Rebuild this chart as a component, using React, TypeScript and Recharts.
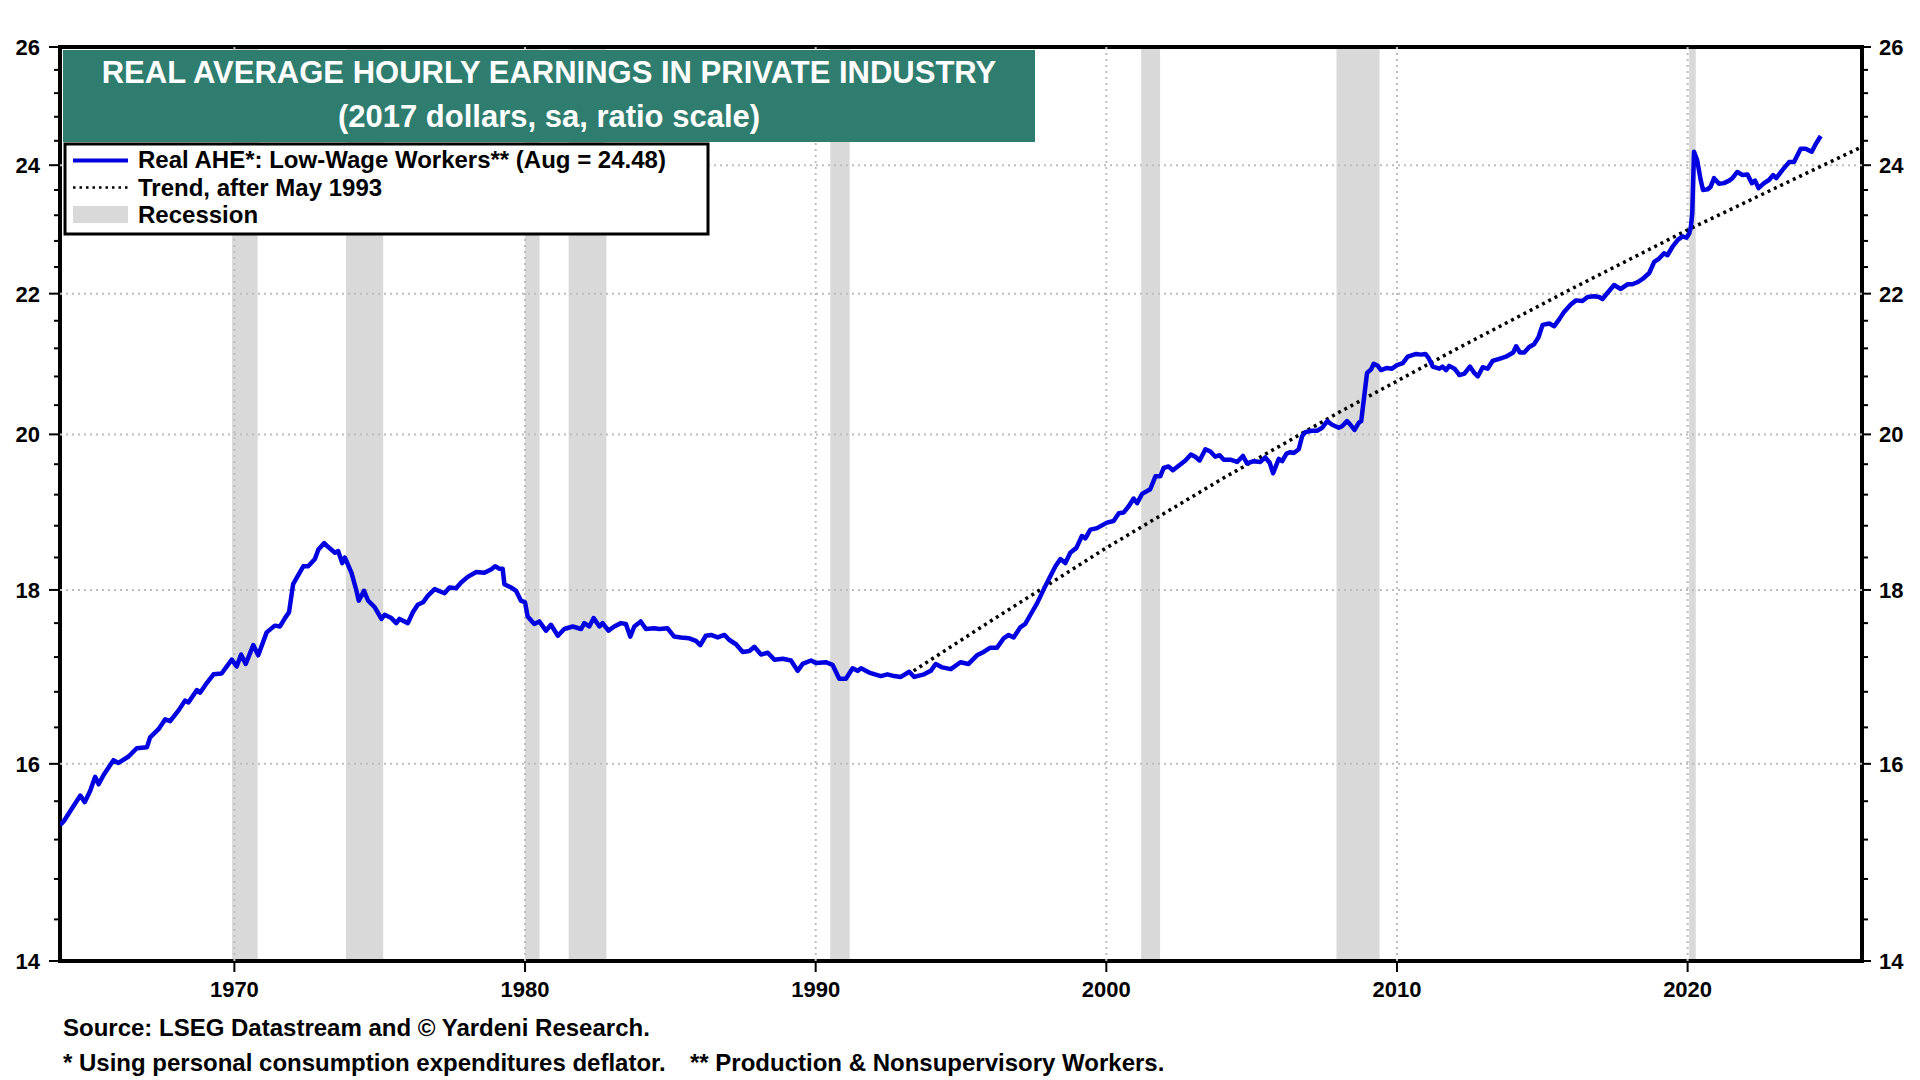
import React from 'react';
import { ComposedChart, Line, XAxis, YAxis, ReferenceArea, ReferenceLine } from 'recharts';

const FONT = '"Liberation Sans", Arial, Helvetica, sans-serif';

// Real AHE, low-wage workers (2017 dollars), [decimal year, value]
const ahe1964to1979: [number, number][] = [
  [1964.0, 15.35], [1964.13, 15.39], [1964.36, 15.5], [1964.7, 15.66], [1964.85, 15.59],
  [1965.04, 15.71], [1965.21, 15.86], [1965.33, 15.78], [1965.5, 15.88], [1965.84, 16.04],
  [1966.01, 16.01], [1966.36, 16.08], [1966.64, 16.17], [1966.99, 16.18], [1967.1, 16.29],
  [1967.39, 16.38], [1967.62, 16.49], [1967.79, 16.47], [1968.08, 16.59], [1968.3, 16.7],
  [1968.42, 16.68], [1968.71, 16.82], [1968.82, 16.79], [1969.05, 16.9], [1969.28, 17.0],
  [1969.56, 17.01], [1969.91, 17.17], [1970.08, 17.09], [1970.23, 17.23], [1970.39, 17.12],
  [1970.65, 17.34], [1970.82, 17.22], [1971.11, 17.49], [1971.39, 17.57], [1971.57, 17.56],
  [1971.74, 17.66], [1971.88, 17.73], [1972.02, 18.07], [1972.37, 18.29], [1972.54, 18.29],
  [1972.77, 18.38], [1972.89, 18.5], [1973.09, 18.58], [1973.23, 18.53], [1973.46, 18.46],
  [1973.57, 18.48], [1973.71, 18.33], [1973.8, 18.4], [1974.03, 18.21], [1974.2, 17.99],
  [1974.28, 17.87], [1974.46, 17.99], [1974.6, 17.87], [1974.83, 17.79], [1975.06, 17.65],
  [1975.17, 17.7], [1975.4, 17.66], [1975.57, 17.6], [1975.68, 17.65], [1975.97, 17.6],
  [1976.14, 17.73], [1976.31, 17.82], [1976.49, 17.85], [1976.66, 17.93], [1976.89, 18.01],
  [1977.23, 17.96], [1977.4, 18.03], [1977.63, 18.02], [1977.8, 18.09], [1978.03, 18.16],
  [1978.32, 18.22], [1978.6, 18.21], [1978.83, 18.25], [1978.97, 18.29], [1979.12, 18.26],
  [1979.23, 18.26], [1979.29, 18.07], [1979.52, 18.03], [1979.69, 17.99], [1979.86, 17.87],
];

const ahe1980to1994: [number, number][] = [
  [1980.0, 17.85], [1980.09, 17.68], [1980.32, 17.59], [1980.49, 17.62], [1980.72, 17.51],
  [1980.89, 17.58], [1981.13, 17.45], [1981.35, 17.53], [1981.64, 17.56], [1981.93, 17.53],
  [1982.04, 17.6], [1982.21, 17.56], [1982.36, 17.66], [1982.56, 17.56], [1982.67, 17.6],
  [1982.87, 17.51], [1983.07, 17.56], [1983.3, 17.6], [1983.47, 17.59], [1983.62, 17.44],
  [1983.76, 17.56], [1983.98, 17.62], [1984.16, 17.53], [1984.44, 17.54], [1984.62, 17.53],
  [1984.9, 17.54], [1985.13, 17.44], [1985.36, 17.43], [1985.65, 17.42], [1985.88, 17.39],
  [1986.03, 17.34], [1986.22, 17.45], [1986.4, 17.46], [1986.63, 17.43], [1986.86, 17.46],
  [1987.03, 17.4], [1987.26, 17.35], [1987.49, 17.26], [1987.72, 17.27], [1987.89, 17.32],
  [1988.12, 17.23], [1988.35, 17.25], [1988.58, 17.17], [1988.87, 17.18], [1989.15, 17.16],
  [1989.38, 17.04], [1989.55, 17.12], [1989.84, 17.16], [1990.01, 17.13], [1990.35, 17.14],
  [1990.58, 17.11], [1990.81, 16.95], [1991.04, 16.95], [1991.27, 17.07], [1991.44, 17.04],
  [1991.56, 17.07], [1991.84, 17.02], [1992.24, 16.98], [1992.47, 17.0], [1992.7, 16.98],
  [1992.93, 16.97], [1993.22, 17.03], [1993.39, 16.97], [1993.73, 17.0], [1993.96, 17.04],
  [1994.13, 17.12], [1994.36, 17.08], [1994.65, 17.06], [1994.98, 17.14],
];

const ahe1995to2009: [number, number][] = [
  [1995.26, 17.12], [1995.55, 17.22], [1995.78, 17.26], [1996.01, 17.31], [1996.24, 17.31],
  [1996.47, 17.42], [1996.64, 17.46], [1996.81, 17.43], [1997.04, 17.55], [1997.21, 17.59],
  [1997.39, 17.7], [1997.62, 17.84], [1997.85, 18.01], [1998.02, 18.13], [1998.25, 18.29],
  [1998.42, 18.38], [1998.59, 18.33], [1998.76, 18.46], [1998.97, 18.52], [1999.16, 18.67],
  [1999.28, 18.64], [1999.45, 18.75], [1999.68, 18.77], [2000.02, 18.84], [2000.25, 18.86],
  [2000.43, 18.96], [2000.6, 18.97], [2000.77, 19.05], [2000.94, 19.15], [2001.06, 19.09],
  [2001.23, 19.21], [2001.51, 19.27], [2001.69, 19.44], [2001.86, 19.44], [2001.97, 19.55],
  [2002.14, 19.57], [2002.29, 19.52], [2002.49, 19.58], [2002.72, 19.65], [2002.91, 19.73],
  [2003.06, 19.7], [2003.21, 19.65], [2003.41, 19.8], [2003.58, 19.77], [2003.75, 19.7],
  [2003.9, 19.72], [2004.04, 19.66], [2004.27, 19.66], [2004.5, 19.63], [2004.7, 19.71],
  [2004.84, 19.61], [2005.07, 19.64], [2005.3, 19.63], [2005.47, 19.69], [2005.62, 19.62],
  [2005.74, 19.48], [2005.93, 19.67], [2006.05, 19.64], [2006.2, 19.74], [2006.33, 19.76],
  [2006.45, 19.75], [2006.62, 19.8], [2006.74, 19.98], [2006.85, 20.03], [2007.08, 20.05],
  [2007.25, 20.05], [2007.43, 20.09], [2007.6, 20.18], [2007.77, 20.13], [2008.0, 20.09],
  [2008.11, 20.11], [2008.28, 20.18], [2008.4, 20.13], [2008.54, 20.06], [2008.69, 20.16],
  [2008.77, 20.18], [2008.86, 20.48], [2008.97, 20.85], [2009.11, 20.9], [2009.2, 20.98],
  [2009.34, 20.95], [2009.45, 20.89], [2009.66, 20.92], [2009.83, 20.91],
];

const ahe2010to2024: [number, number][] = [
  [2010.0, 20.96], [2010.2, 20.99], [2010.37, 21.08], [2010.66, 21.12], [2010.83, 21.11],
  [2010.98, 21.12], [2011.09, 21.06], [2011.23, 20.94], [2011.46, 20.91], [2011.57, 20.94],
  [2011.69, 20.89], [2011.8, 20.95], [2011.98, 20.91], [2012.15, 20.82], [2012.32, 20.84],
  [2012.51, 20.94], [2012.66, 20.85], [2012.78, 20.8], [2012.95, 20.93], [2013.12, 20.91],
  [2013.29, 21.02], [2013.52, 21.05], [2013.75, 21.08], [2014.0, 21.14], [2014.1, 21.23],
  [2014.23, 21.14], [2014.38, 21.14], [2014.55, 21.22], [2014.72, 21.26], [2014.87, 21.36],
  [2015.01, 21.54], [2015.24, 21.56], [2015.41, 21.52], [2015.58, 21.62], [2015.75, 21.73],
  [2015.98, 21.84], [2016.16, 21.9], [2016.38, 21.89], [2016.56, 21.95], [2016.79, 21.96],
  [2016.96, 21.95], [2017.07, 21.92], [2017.24, 22.01], [2017.47, 22.13], [2017.7, 22.07],
  [2017.93, 22.14], [2018.1, 22.14], [2018.27, 22.17], [2018.45, 22.22], [2018.68, 22.31],
  [2018.85, 22.48], [2019.02, 22.53], [2019.19, 22.61], [2019.31, 22.58], [2019.48, 22.71],
  [2019.65, 22.81], [2019.82, 22.87], [2019.96, 22.85], [2020.05, 22.91], [2020.11, 23.01],
  [2020.16, 23.23], [2020.22, 24.22], [2020.33, 24.08], [2020.45, 23.76], [2020.53, 23.6],
  [2020.68, 23.61], [2020.79, 23.65], [2020.91, 23.79], [2021.08, 23.7], [2021.25, 23.71],
  [2021.43, 23.75], [2021.54, 23.79], [2021.71, 23.89], [2021.89, 23.84], [2022.06, 23.85],
  [2022.21, 23.71], [2022.32, 23.75], [2022.44, 23.63], [2022.63, 23.71], [2022.8, 23.76],
  [2022.94, 23.84], [2023.05, 23.79], [2023.26, 23.92], [2023.49, 24.05], [2023.66, 24.05],
  [2023.89, 24.27], [2024.06, 24.27], [2024.27, 24.22], [2024.4, 24.34], [2024.58, 24.48],
];

// Trend after May 1993
const trendAfterMay1993: [number, number][] = [
  [1993.37, 17.04], [1996.0, 17.62], [2000.0, 18.52], [2004.0, 19.41], [2008.0, 20.3],
  [2012.0, 21.18], [2016.0, 22.07], [2020.0, 22.97], [2024.0, 23.85], [2026.0, 24.3],
];

// Recession periods [start, end] in decimal years
const recessions: [number, number][] = [
  [1969.92, 1970.8], [1973.84, 1975.12], [1980.0, 1980.5], [1981.5, 1982.8],
  [1990.5, 1991.17], [2001.2, 2001.85], [2007.92, 2009.4], [2020.05, 2020.28],
];

const yTicks = [
  14, 14.4, 14.8, 15.2, 15.6, 16, 16.4, 16.8, 17.2, 17.6, 18, 18.4, 18.8, 19.2, 19.6,
  20, 20.4, 20.8, 21.2, 21.6, 22, 22.4, 22.8, 23.2, 23.6, 24, 24.4, 24.8, 25.2, 25.6, 26,
];
const yMajorLabels = [14, 16, 18, 20, 22, 24, 26];
const yGridValues = [16, 18, 20, 22, 24];
const xTicks = [1970, 1980, 1990, 2000, 2010, 2020];
const xDomain: [number, number] = [1964, 2026];
const yDomain: [number, number] = [14, 26];

const toRows = (pts: [number, number][]) => pts.map(([x, v]) => ({ x, v }));
const aheData = toRows([...ahe1964to1979, ...ahe1980to1994, ...ahe1995to2009, ...ahe2010to2024]);
const trendData = toRows(trendAfterMay1993);

const BLUE = '#0000E0';
const GRID = '#bdbdbd';
const RECESSION = '#d9d9d9';
const TITLE_BG = '#2F7D6F';

const LeftTick = (props: any) => {
  const { x, y, payload } = props;
  const major = yMajorLabels.includes(payload.value);
  return (
    <g>
      <line x1={x - (major ? 11 : 6)} x2={x} y1={y} y2={y} stroke="#000" strokeWidth={2} />
      {major && (
        <text x={x - 20} y={y} dy="0.36em" textAnchor="end" fontFamily={FONT} fontWeight={700} fontSize={22} fill="#000">
          {payload.value}
        </text>
      )}
    </g>
  );
};

const RightTick = (props: any) => {
  const { x, y, payload } = props;
  const major = yMajorLabels.includes(payload.value);
  return (
    <g>
      <line x1={x} x2={x + (major ? 9 : 6)} y1={y} y2={y} stroke="#000" strokeWidth={2} />
      {major && (
        <text x={x + 17} y={y} dy="0.36em" textAnchor="start" fontFamily={FONT} fontWeight={700} fontSize={22} fill="#000">
          {payload.value}
        </text>
      )}
    </g>
  );
};

const BottomTick = (props: any) => {
  const { x, y, payload } = props;
  return (
    <g>
      <line x1={x} x2={x} y1={y} y2={y + 11} stroke="#000" strokeWidth={2} />
      <text x={x} y={y + 36} textAnchor="middle" fontFamily={FONT} fontWeight={700} fontSize={22} fill="#000">
        {payload.value}
      </text>
    </g>
  );
};

const textStyle = { fontFamily: FONT, fontWeight: 700 } as const;

export default function App() {
  return (
    <div style={{ position: 'absolute', left: 0, top: 0, width: 1920, height: 1080, background: '#fff', overflow: 'hidden' }}>
      <ComposedChart width={1920} height={1080} margin={{ top: 47, right: 0, bottom: 79, left: 0 }}>
        <XAxis
          dataKey="x"
          type="number"
          domain={xDomain}
          allowDataOverflow
          ticks={xTicks}
          interval={0}
          height={40}
          axisLine={false}
          tickLine={false}
          tickSize={0}
          tickMargin={0}
          tick={<BottomTick />}
        />
        <YAxis
          yAxisId="left"
          orientation="left"
          type="number"
          scale="log"
          domain={yDomain}
          allowDataOverflow
          ticks={yTicks}
          interval={0}
          width={60}
          axisLine={false}
          tickLine={false}
          tickSize={0}
          tickMargin={0}
          tick={<LeftTick />}
        />
        <YAxis
          yAxisId="right"
          orientation="right"
          type="number"
          scale="log"
          domain={yDomain}
          allowDataOverflow
          ticks={yTicks}
          interval={0}
          width={58}
          axisLine={false}
          tickLine={false}
          tickSize={0}
          tickMargin={0}
          tick={<RightTick />}
        />
        {recessions.map(([a, b], i) => (
          <ReferenceArea key={`r${i}`} yAxisId="left" x1={a} x2={b} fill={RECESSION} fillOpacity={1} stroke="none" />
        ))}
        {yGridValues.map((v) => (
          <ReferenceLine key={`gy${v}`} yAxisId="left" y={v} stroke={GRID} strokeWidth={2} strokeDasharray="2 4" />
        ))}
        {xTicks.map((v) => (
          <ReferenceLine key={`gx${v}`} yAxisId="left" x={v} stroke={GRID} strokeWidth={2} strokeDasharray="2 4" />
        ))}
        <Line
          yAxisId="left"
          data={trendData}
          dataKey="v"
          type="linear"
          stroke="#000"
          strokeWidth={3.5}
          strokeDasharray="3 4"
          dot={false}
          activeDot={false}
          isAnimationActive={false}
        />
        <Line
          yAxisId="left"
          data={aheData}
          dataKey="v"
          type="linear"
          stroke={BLUE}
          strokeWidth={4.5}
          strokeLinejoin="round"
          dot={false}
          activeDot={false}
          isAnimationActive={false}
        />
        <Line
          yAxisId="right"
          data={aheData}
          dataKey="v"
          type="linear"
          stroke="none"
          strokeWidth={0}
          dot={false}
          activeDot={false}
          isAnimationActive={false}
          legendType="none"
        />
        <ReferenceArea
          yAxisId="left"
          x1={xDomain[0]}
          x2={xDomain[1]}
          y1={yDomain[0]}
          y2={yDomain[1]}
          fill="none"
          stroke="#000"
          strokeWidth={4}
          ifOverflow="visible"
        />
      </ComposedChart>
      <svg width={1920} height={1080} style={{ position: 'absolute', left: 0, top: 0, pointerEvents: 'none' }}>
        <rect x={63} y={50} width={972} height={92} fill={TITLE_BG} />
        <text x={549} y={83} textAnchor="middle" fill="#fff" fontSize={31} style={textStyle}>
          REAL AVERAGE HOURLY EARNINGS IN PRIVATE INDUSTRY
        </text>
        <text x={549} y={127} textAnchor="middle" fill="#fff" fontSize={31} style={textStyle}>
          (2017 dollars, sa, ratio scale)
        </text>
        <rect x={65} y={144} width={643} height={90} fill="#fff" stroke="#000" strokeWidth={3} />
        <line x1={73} x2={128} y1={160.5} y2={160.5} stroke={BLUE} strokeWidth={4} />
        <line x1={73} x2={128} y1={187.5} y2={187.5} stroke="#000" strokeWidth={2.5} strokeDasharray="2.5 4" />
        <rect x={73} y={206} width={55} height={17} fill={RECESSION} />
        <text x={138} y={168} fill="#000" fontSize={24} style={textStyle}>Real AHE*: Low-Wage Workers** (Aug = 24.48)</text>
        <text x={138} y={195.5} fill="#000" fontSize={24} style={textStyle}>Trend, after May 1993</text>
        <text x={138} y={223} fill="#000" fontSize={24} style={textStyle}>Recession</text>
        <text x={63} y={1036} fill="#000" fontSize={24} style={textStyle}>Source: LSEG Datastream and © Yardeni Research.</text>
        <text x={63} y={1071} fill="#000" fontSize={24} style={textStyle}>* Using personal consumption expenditures deflator.</text>
        <text x={690} y={1071} fill="#000" fontSize={24} style={textStyle}>** Production &amp; Nonsupervisory Workers.</text>
      </svg>
    </div>
  );
}
